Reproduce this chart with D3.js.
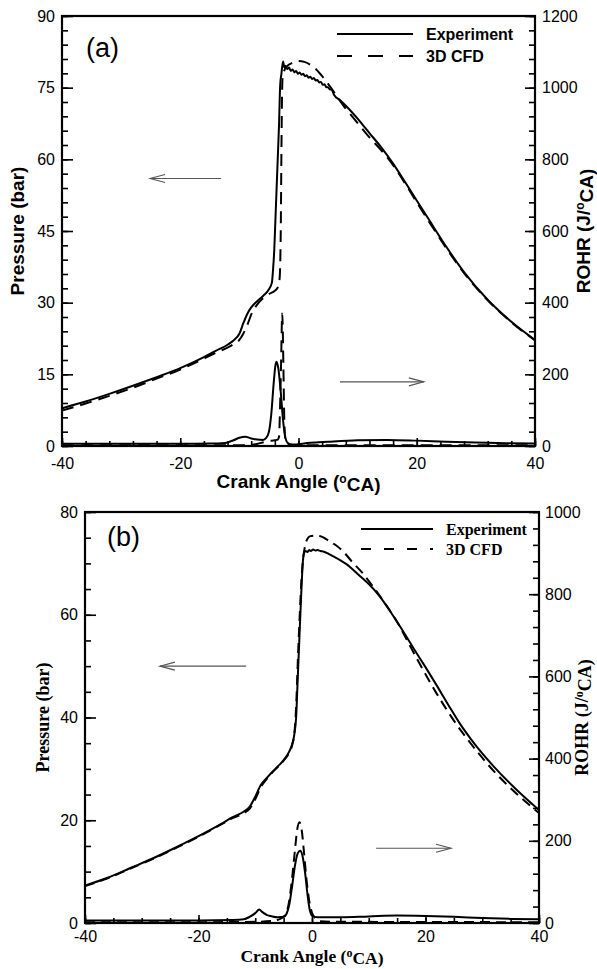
<!DOCTYPE html>
<html>
<head>
<meta charset="utf-8">
<script src="https://cdn.jsdelivr.net/npm/d3@7"></script>
<style>
  body { margin: 0; background: #fff; }
  svg { display: block; }
</style>
</head>
<body>
<svg id="chart" width="597" height="969"></svg>
<script>
// ---- panel (a) data ----
const aPexpAng = [-40,-36,-32,-28,-24,-20,-16,-14,-12,-11,-10,-9.3,-8.6,-8,-7,-6,-5,-4.5,-4.3,-4.1,-3.9,-3.7,-3.5,-3.3,-3.1,-2.9,-2.6,-2.4,-2.2,-1.9,-1.6,-1.3,-1.0,-0.7,-0.4,-0.1,0.2,0.5,0.8,1.1,1.4,1.7,2.0,2.3,2.6,2.9,3.2,3.5,3.8,4.1,4.4,4.7,5.0,5.3,5.6,6,7,8,9,10,11,12,14,16,18,20,22,25,28,32,36,40]
const aPexp = [7.9,9.3,10.9,12.6,14.4,16.3,18.6,19.9,21.2,22.1,23.5,25.8,27.8,29.0,30.3,31.4,32.8,34.2,37,41,47.5,54,60.5,67,75.5,77.8,80.5,79.2,79.6,78.9,79.2,78.5,78.8,78.2,78.5,77.9,78.2,77.7,77.9,77.4,77.6,77.1,77.3,76.8,77.0,76.5,76.6,76.1,76.2,75.6,75.7,75.1,75.1,74.6,74.6,73.5,72.4,71.2,69.9,68.5,67.0,65.5,62.5,59.1,55.3,51.4,47.5,41.7,36.4,30.6,26.0,22.2]

const aPcfdAng = [-40,-36,-32,-28,-24,-20,-16,-14,-12,-11,-10,-9.3,-8.6,-8,-7,-6,-5,-4,-3.5,-3.2,-3.0,-2.9,-2.8,-2.7,-2.4,-2,-1,0,1,2,3,4,5,6,7,8,9,10,12,14,16,18,20,22,25,28,32,36,40]
const aPcfd = [7.4,8.9,10.5,12.2,14.1,16.0,18.3,19.5,20.6,21.3,22.2,23.6,25.5,27.5,29.6,30.9,31.8,32.5,33.2,35,45,60,72,77,78.6,79.4,80.2,80.6,80.4,79.8,78.8,77.4,75.8,74.1,72.3,70.6,69.1,67.6,64.6,61.9,58.8,55.0,51.0,47.1,41.4,36.2,30.5,25.9,22.1]

const aRexpAng = [-40,-30,-20,-15,-13,-12,-11,-10,-9,-8,-7,-6,-5.5,-5,-4.6,-4.2,-3.9,-3.7,-3.4,-3.0,-2.6,-2.2,-1.8,-1.2,-0.5,0,2,5,10,15,20,25,30,35,40]
const aRexp = [6,6,6,7,8,10,16,23,26,21,18,17,22,40,90,175,225,235,215,150,70,22,8,4,4,5,9,12,16,17,15,12,10,8,7]

const aRcfdAng = [-40,-30,-20,-10,-8,-6.5,-5,-4,-3.5,-3.3,-3.1,-2.95,-2.75,-2.55,-2.4,-2.2,-2,-1,0,10,20,30,40]
const aRcfd = [2,2,2,2,3,8,14,16,18,25,120,230,370,220,70,15,5,3,2,2,2,2,2]

// ---- panel (b) data ----
const bPexpAng = [-40,-36,-32,-28,-24,-20,-16,-14,-12,-11,-10,-9,-8,-7,-6,-5,-4,-3.5,-3.1,-2.8,-2.5,-2.2,-1.9,-1.6,-1.4,-1.1,-0.8,-0.5,-0.2,0.2,0.6,1.0,1.5,2,3,4,5,6,7,8,9,10,12,14,16,18,20,22,24,26,28,30,32,36,40]
const bPexp = [7.3,8.8,10.7,12.6,14.7,16.9,19.3,20.6,21.7,22.6,24.6,26.9,28.2,29.4,30.5,31.7,33.4,34.8,36.8,40,48,56,64,70.5,72.0,72.4,72.2,72.6,72.4,72.7,72.5,72.6,72.4,72.3,71.8,71.2,70.6,69.9,69.0,68.0,67.0,66.0,63.5,60.3,56.9,53.3,49.8,46.2,42.5,38.9,35.8,33.0,30.5,26.0,22.0]

const bPcfdAng = [-40,-36,-32,-28,-24,-20,-16,-14,-12,-11,-10,-9,-8,-7,-6,-5,-4,-3.5,-3.1,-2.8,-2.5,-2.2,-1.9,-1.6,-1.2,-0.8,-0.3,0.5,1.5,2.5,3.5,4.5,5.5,7,9,11,13,15,17,19,22,25,28,32,36,40]
const bPcfd = [7.2,8.7,10.6,12.5,14.6,16.8,19.2,20.4,21.4,22.2,24.1,26.5,28.0,29.3,30.4,31.6,33.2,34.6,37,42,51,59,66,70.5,73.5,74.8,75.3,75.4,75.3,74.7,74.0,73.3,72.3,70.4,68.0,65.1,62.0,58.6,54.5,50.4,44.6,39.4,34.9,29.6,25.2,21.4]

const bRexpAng = [-40,-30,-20,-14,-12,-11,-10,-9.3,-8.8,-8,-7,-6,-5,-4.5,-4,-3.5,-3,-2.5,-2.1,-1.7,-1.2,-0.8,-0.4,0,1,5,10,15,20,25,30,35,40]
const bRexp = [6,6,6,7,9,15,24,33,27,20,16,14,15,22,45,90,140,170,176,165,120,70,32,18,14,14,16,18,17,15,12,10,9]

const bRcfdAng = [-40,-20,-10,-7,-6,-5,-4.2,-3.5,-3,-2.6,-2.2,-1.8,-1.4,-1,-0.5,0,0.7,1.5,5,40]
const bRcfd = [2,2,3,5,8,15,40,110,178,228,245,225,170,110,55,25,10,4,3,2]

// ---- tick values ----
const xMajor = [-40, -20, 0, 20, 40]
const aPTicks = [0, 15, 30, 45, 60, 75, 90]
const aRTicks = [0, 200, 400, 600, 800, 1000, 1200]
const bPTicks = [0, 20, 40, 60, 80]
const bRTicks = [0, 200, 400, 600, 800, 1000]

const seriesNames = ['Experiment', '3D CFD']

const svg = d3.select('#chart')

function range(a, b, s) { return d3.range(a, b + s / 2, s) }

function drawPanel(p) {
  const g = svg.append('g')
  const x = d3.scaleLinear().domain([-40, 40]).range([p.left, p.right])
  const yL = d3.scaleLinear().domain([0, p.pMax]).range([p.bottom, p.top])
  const yR = d3.scaleLinear().domain([0, p.rMax]).range([p.bottom, p.top])

  const styleAxis = (sel, font) => {
    sel.select('.domain').remove()
    sel.selectAll('line').attr('stroke', '#000').attr('stroke-width', 1.6)
    sel.selectAll('text').attr('fill', '#000').style('font-family', font).style('font-size', '16px')
    sel.attr('font-family', null).attr('font-size', null)
  }

  // minor ticks first
  g.append('g').attr('transform', `translate(0,${p.bottom})`)
    .call(d3.axisBottom(x).tickValues(range(-40, 40, p.xMinor)).tickSize(-5).tickFormat(''))
    .call(s => styleAxis(s, p.tickFont))
  g.append('g').attr('transform', `translate(${p.left},0)`)
    .call(d3.axisLeft(yL).tickValues(range(0, p.pMax, p.pMinor)).tickSize(-6).tickFormat(''))
    .call(s => styleAxis(s, p.tickFont))
  g.append('g').attr('transform', `translate(${p.right},0)`)
    .call(d3.axisRight(yR).tickValues(range(0, p.rMax, p.rMinor)).tickSize(-6).tickFormat(''))
    .call(s => styleAxis(s, p.tickFont))

  // major ticks + labels
  g.append('g').attr('transform', `translate(0,${p.bottom})`)
    .call(d3.axisBottom(x).tickValues(xMajor).tickSize(-8).tickPadding(p.xPad).tickFormat(d => String(d)))
    .call(s => styleAxis(s, p.tickFont))
  g.append('g').attr('transform', `translate(${p.left},0)`)
    .call(d3.axisLeft(yL).tickValues(p.pTicks).tickSize(-11).tickPadding(7).tickFormat(d => String(d)))
    .call(s => styleAxis(s, p.tickFont))
  g.append('g').attr('transform', `translate(${p.right},0)`)
    .call(d3.axisRight(yR).tickValues(p.rTicks).tickSize(-10).tickPadding(p.rPad).tickFormat(d => String(d)))
    .call(s => styleAxis(s, p.tickFont))

  // frame
  g.append('rect')
    .attr('x', p.left).attr('y', p.top)
    .attr('width', p.right - p.left).attr('height', p.bottom - p.top)
    .attr('fill', 'none').attr('stroke', '#000').attr('stroke-width', 2.2)

  // curves
  const clipId = 'clip-' + p.id
  svg.append('clipPath').attr('id', clipId).append('rect')
    .attr('x', p.left).attr('y', p.top - 2)
    .attr('width', p.right - p.left).attr('height', p.bottom - p.top + 1)
  const curves = g.append('g').attr('clip-path', `url(#${clipId})`)

  const lineL = d3.line().curve(d3.curveMonotoneX).x(d => x(d[0])).y(d => yL(d[1]))
  const lineR = d3.line().curve(d3.curveMonotoneX).x(d => x(d[0])).y(d => yR(d[1]))
  const zip = (a, b) => a.map((v, i) => [v, b[i]])

  const sets = [
    { d: zip(p.rCfdAng, p.rCfd), line: lineR, dash: p.dash },
    { d: zip(p.pCfdAng, p.pCfd), line: lineL, dash: p.dash },
    { d: zip(p.rExpAng, p.rExp), line: lineR, dash: null },
    { d: zip(p.pExpAng, p.pExp), line: lineL, dash: null }
  ]
  sets.forEach(s => {
    curves.append('path')
      .attr('d', s.line(s.d))
      .attr('fill', 'none')
      .attr('stroke', '#000')
      .attr('stroke-width', 2)
      .attr('stroke-linejoin', 'round')
      .attr('stroke-dasharray', s.dash)
  })

  // arrows (data units)
  const arrow = (x0, x1, yv, scale) => {
    const ax0 = x(x0), ax1 = x(x1), ay = scale(yv)
    const dir = Math.sign(ax1 - ax0)
    g.append('line').attr('x1', ax0).attr('x2', ax1).attr('y1', ay).attr('y2', ay)
      .attr('stroke', '#555').attr('stroke-width', 1.1)
    g.append('path')
      .attr('d', `M${ax1 - dir * 15},${ay - 4}L${ax1},${ay}L${ax1 - dir * 15},${ay + 4}`)
      .attr('fill', 'none').attr('stroke', '#555').attr('stroke-width', 1.1)
  }
  arrow(p.arrowL[0], p.arrowL[1], p.arrowL[2], yL)
  arrow(p.arrowR[0], p.arrowR[1], p.arrowR[2], yR)

  // legend
  seriesNames.forEach((name, i) => {
    const ly = p.legY[i]
    g.append('line').attr('x1', p.legX0).attr('x2', p.legX1).attr('y1', ly).attr('y2', ly)
      .attr('stroke', '#000').attr('stroke-width', 2)
      .attr('stroke-dasharray', i === 1 ? p.legDash : null)
    g.append('text').attr('x', p.legX1 + 13).attr('y', ly + 5.5)
      .style('font-family', p.titleFont).style('font-size', '16px').style('font-weight', 'bold')
      .text(name)
  })

  // panel tag
  g.append('text').attr('x', p.tag[1]).attr('y', p.tag[2])
    .style('font-family', 'Liberation Sans, Arial, sans-serif').style('font-size', '27px')
    .text(p.tag[0])

  // axis titles
  const title = (tx, ty, rot) => g.append('text')
    .attr('transform', `translate(${tx},${ty}) rotate(${rot})`)
    .attr('text-anchor', 'middle')
    .style('font-family', p.titleFont).style('font-size', p.titleSize).style('font-weight', 'bold')

  title(p.leftTitleX, (p.top + p.bottom) / 2, -90).attr('dy', '0.35em').text('Pressure (bar)')

  const rt = title(p.rightTitleX, (p.top + p.bottom) / 2, -90).attr('dy', '0.35em')
  rt.append('tspan').text('ROHR (J/')
  rt.append('tspan').attr('dy', '-0.45em').style('font-size', '12px').text('o')
  rt.append('tspan').attr('dy', '0.45em').text('CA)')

  const bt = g.append('text').attr('x', (p.left + p.right) / 2).attr('y', p.xTitleY)
    .attr('text-anchor', 'middle')
    .style('font-family', p.titleFont).style('font-size', p.xTitleSize).style('font-weight', 'bold')
  bt.append('tspan').text('Crank Angle (')
  bt.append('tspan').attr('dy', '-0.45em').style('font-size', '12px').text('o')
  bt.append('tspan').attr('dy', '0.45em').text('CA)')
}

drawPanel({
  id: 'a', left: 62, right: 535, top: 16, bottom: 446,
  pMax: 90, rMax: 1200, pMinor: 3, rMinor: 40, xMinor: 4,
  pTicks: aPTicks, rTicks: aRTicks, xPad: 12, rPad: 7,
  pExpAng: aPexpAng, pExp: aPexp, pCfdAng: aPcfdAng, pCfd: aPcfd,
  rExpAng: aRexpAng, rExp: aRexp, rCfdAng: aRcfdAng, rCfd: aRcfd,
  dash: '12,7', legDash: '15,16',
  arrowL: [-13.1, -25.1, 56], arrowR: [7.0, 21.2, 179],
  legX0: 337, legX1: 413, legY: [34, 56],
  tag: ['(a)', 86, 57],
  tickFont: 'Liberation Sans, Arial, sans-serif',
  titleFont: 'Liberation Sans, Arial, sans-serif', titleSize: '19px', xTitleSize: '19px',
  leftTitleX: 17, rightTitleX: 583, xTitleY: 488
})

drawPanel({
  id: 'b', left: 85, right: 539, top: 512, bottom: 923,
  pMax: 80, rMax: 1000, pMinor: 5, rMinor: 40, xMinor: 5,
  pTicks: bPTicks, rTicks: bRTicks, xPad: 8, rPad: 6,
  pExpAng: bPexpAng, pExp: bPexp, pCfdAng: bPcfdAng, pCfd: bPcfd,
  rExpAng: bRexpAng, rExp: bRexp, rCfdAng: bRcfdAng, rCfd: bRcfd,
  dash: '10,6', legDash: '10,13',
  arrowL: [-11.6, -26.8, 50], arrowR: [11.3, 24.5, 182],
  legX0: 361, legX1: 433, legY: [529, 549],
  tag: ['(b)', 107, 546],
  tickFont: 'Liberation Sans, Arial, sans-serif',
  titleFont: 'Liberation Serif, Times New Roman, serif', titleSize: '18px', xTitleSize: '17.5px',
  leftTitleX: 43, rightTitleX: 582, xTitleY: 962
})
</script>
</body>
</html>
